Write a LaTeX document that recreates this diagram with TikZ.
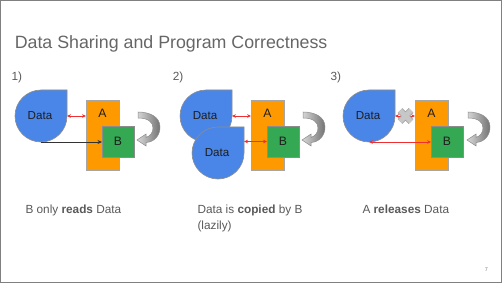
\documentclass[tikz,border=0pt]{standalone}
\usepackage{fontspec}
\setmainfont{Liberation Sans}
\usetikzlibrary{arrows.meta}
\definecolor{datablue}{HTML}{4A86E8}
\definecolor{aorange}{HTML}{FF9900}
\definecolor{bgreen}{HTML}{34A853}
\definecolor{arrred}{HTML}{F03030}
\definecolor{txtdark}{HTML}{1E1E1E}
\definecolor{txtgray}{HTML}{595959}
\definecolor{titlegray}{HTML}{666666}
\tikzset{
  every node/.style={inner sep=0pt, outer sep=0pt},
  frame/.style={draw=black!50, line width=1.4pt},
  datafill/.style={fill=datablue, draw=black!45, line width=0.6pt},
  datatext/.style={font=\fontsize{11.6}{13}\selectfont, text=txtdark},
  abox/.style={fill=aorange, draw=black!35, line width=0.6pt, minimum width=33pt, minimum height=70pt},
  bbox/.style={fill=bgreen, draw=black!45, line width=0.6pt, minimum width=32pt, minimum height=31pt, font=\fontsize{12.2}{13}\selectfont, text=txtdark},
  boxtext/.style={font=\fontsize{12.2}{13}\selectfont, text=txtdark},
  redarr/.style={draw=arrred, line width=0.6pt, {Stealth[length=4pt,width=3.6pt]}-{Stealth[length=4pt,width=3.6pt]}},
  blackarr/.style={draw=black!80, line width=0.6pt, -{Stealth[length=4.5pt,width=4pt]}},
  turn/.style={draw=black!45, line width=0.5pt, left color=black!15, right color=black!55},
  xout/.style={draw=black!40, line width=6.4pt},
  xin/.style={draw=black!22, line width=5pt},
  titletext/.style={font=\fontsize{17.8}{20}\selectfont, text=titlegray, anchor=base west},
  numtext/.style={font=\fontsize{11.8}{14}\selectfont, text=txtgray, anchor=base west},
  captext/.style={font=\fontsize{11.8}{16}\selectfont, text=txtgray, anchor=base west},
}
% #1 name, #2 cx, #3 cy
\newcommand\drawdata[3]{%
  \path[datafill] (#2+26,#3-26) -- (#2+26,#3) arc[start angle=0, end angle=270, radius=26pt] -- cycle;
  \node[datatext] (#1) at (#2-1,#3) {Data};
  \coordinate (#1r) at (#2+26,#3);
  \coordinate (#1b) at (#2,#3+26);
}
\newcommand\turnarrow[1]{%
  \path[turn, shift={(#1,0)}] (138,112) -- (138,118)
    .. controls (148,118) and (153,122) .. (153,128)
    .. controls (153,133) and (150,136) .. (146,137.5)
    -- (146,134) -- (137,140) -- (146,146) -- (146,142.5)
    .. controls (154,142) and (160,136) .. (160,127)
    .. controls (160,117) and (150,112) .. (138,112) -- cycle;
}
\begin{document}
\begin{tikzpicture}[x=1pt, y=1pt, yscale=-1]
\useasboundingbox (0,0) rectangle (502,283);
\draw[frame] (0.7,0.7) rectangle (501.3,282.3);

\node[titletext] (title) at (14.8,48.3) {Data Sharing and Program Correctness};

% ---------- panel 1 ----------
\node[numtext] (n1) at (11.5,81) {1)};
\drawdata{d1}{41}{116}
\node[abox] (A1) at (102.5,135) {};
\node[boxtext] (A1t) at (102.5,113.5) {A};
\node[bbox] (B1) at (118,141.5) {B};
\draw[redarr] (d1r) -- (d1r -| A1.west);
\draw[blackarr] (d1b) -- (d1b -| B1.west);
\turnarrow{0}
\node[captext] (c1) at (25.5,213.3) {B only \textbf{reads} Data};

% ---------- panel 2 ----------
\node[numtext] (n2) at (172.8,81) {2)};
\drawdata{d2}{206}{116}
\drawdata{d3}{218}{153}
\node[abox] (A2) at (267.5,135) {};
\node[boxtext] (A2t) at (267.5,113.5) {A};
\node[bbox] (B2) at (283,141.5) {B};
\draw[redarr] (d2r) -- (d2r -| A2.west);
\draw[redarr] (B2.west -| d3r) -- (B2.west);
\turnarrow{165}
\node[captext] (c2a) at (197.5,213.3) {Data is \textbf{copied} by B};
\node[captext] (c2b) at (197.5,229.3) {(lazily)};

% ---------- panel 3 ----------
\node[numtext] (n3) at (330.5,81) {3)};
\drawdata{d4}{369}{116}
\node[abox] (A3) at (431.5,135) {};
\node[boxtext] (A3t) at (431.5,113.5) {A};
\node[bbox] (B3) at (447,141.5) {B};
\draw[redarr] (d4r) -- (d4r -| A3.west);
\draw[redarr] (d4b) -- (d4b -| B3.west);
\coordinate (x3) at (405.5,116);
\draw[xout] ([shift={(-5.5,-5.5)}]x3) -- ([shift={(5.5,5.5)}]x3);
\draw[xout] ([shift={(5.5,-5.5)}]x3) -- ([shift={(-5.5,5.5)}]x3);
\draw[xin] ([shift={(-5.5,-5.5)}]x3) -- ([shift={(5.5,5.5)}]x3);
\draw[xin] ([shift={(5.5,-5.5)}]x3) -- ([shift={(-5.5,5.5)}]x3);
\turnarrow{330}
\node[captext] (c3) at (362.5,213.3) {A \textbf{releases} Data};

\node[font=\fontsize{5.5}{6}\selectfont, text=black!50, anchor=base] (pg) at (486.5,271) {7};
\end{tikzpicture}
\end{document}
